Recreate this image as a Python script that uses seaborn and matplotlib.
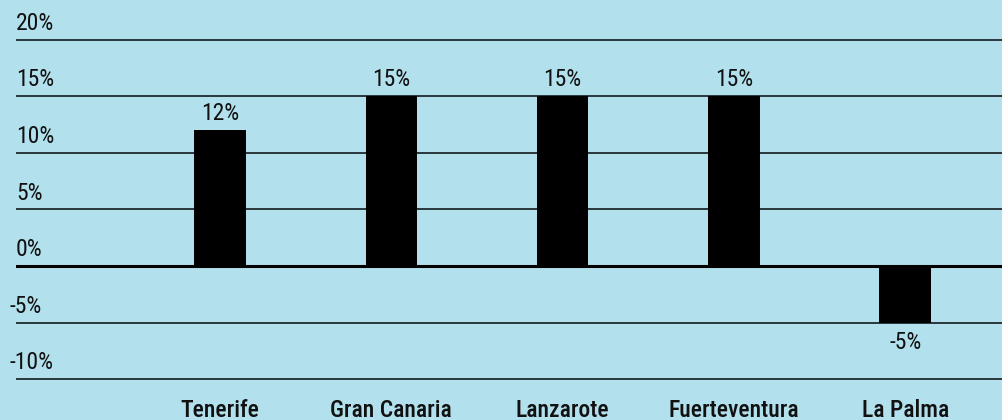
import matplotlib
matplotlib.use("Agg")
import matplotlib.pyplot as plt
import seaborn as sns
import pandas as pd

# data
islands = ['Tenerife', 'Gran Canaria', 'Lanzarote', 'Fuerteventura', 'La Palma']
change = [12, 15, 15, 15, -5]
y_ticks = [20, 15, 10, 5, 0, -5, -10]

bg = '#b2e0ec'

sns.set_theme(style='white')
plt.rcParams['font.family'] = ['Roboto Condensed', 'Liberation Sans Narrow', 'Roboto', 'DejaVu Sans']

df = pd.DataFrame({'island': islands, 'change': change})

fig = plt.figure(figsize=(10.02, 4.2), dpi=100, facecolor=bg)
ax = fig.add_axes([16 / 1002, 0, 986 / 1002, 1])
ax.set_facecolor(bg)

# grid lines first so bars sit on top
for t in y_ticks:
    ax.axhline(t, color='black' if t == 0 else '#1e2a2d',
               lw=2.2 if t == 0 else 1.3, zorder=1 if t != 0 else 3)
    off = -5 if t < 0 else 0
    ax.annotate(f'{t}%', xy=(0, t), xycoords=('axes fraction', 'data'),
                xytext=(off, 3.5), textcoords='offset points',
                ha='left', va='bottom', fontsize=17, color='#111111')

sns.barplot(data=df, x='island', y='change', color='black', width=0.3,
            saturation=1, ax=ax, zorder=2, edgecolor='black', linewidth=0)

for i, v in enumerate(change):
    ax.annotate(f'{v}%', xy=(i, v), xytext=(0, 4 if v >= 0 else -6),
                textcoords='offset points', ha='center',
                va='bottom' if v >= 0 else 'top', fontsize=17, color='#111111')
    ax.text(i, -12.75, islands[i], ha='center', va='center', fontsize=17,
            fontweight='medium', color='#111111')

ax.set_xlim(-1.19, 4.565)
ax.set_ylim(-13.6, 23.5)
ax.set_xticks([])
ax.set_yticks([])
ax.set_xlabel('')
ax.set_ylabel('')
for s in ax.spines.values():
    s.set_visible(False)

fig.savefig('out.png', dpi=100, facecolor=bg)
